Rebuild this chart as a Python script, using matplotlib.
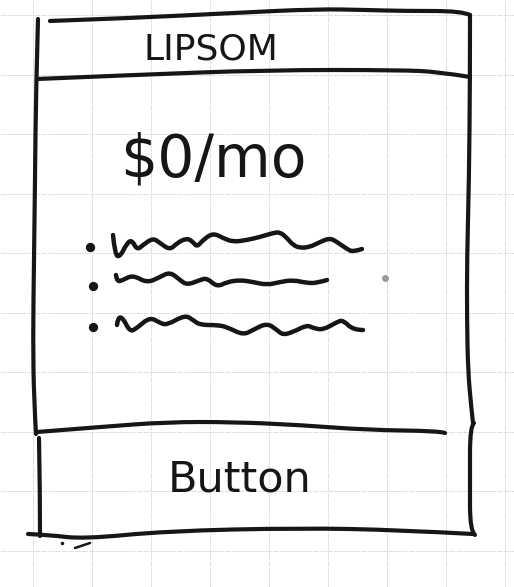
import numpy as np
import matplotlib
matplotlib.use("Agg")
import matplotlib.pyplot as plt
from matplotlib.path import Path
from matplotlib.patches import PathPatch

# grid paper
grid_x = [33, 92, 151, 210, 269, 328, 387, 446, 505]
grid_y = [15, 75, 134, 194, 253, 313, 372, 432, 491, 551]

# card outline strokes (x list, y list)
top_x = [50, 133, 233, 317, 367, 405, 462, 470]
top_y = [21, 18, 13, 9, 10, 11, 11, 15]
header_x = [37, 133, 267, 400, 440, 470]
header_y = [79, 75, 70, 70, 72, 77]
left_x = [38, 36, 35, 34, 33, 34, 36]
left_y = [19, 90, 180, 260, 340, 400, 434]
right_x = [470, 470, 469, 467, 467, 468, 471, 473]
right_y = [15, 80, 180, 260, 320, 370, 405, 423]
btn_top_x = [37, 100, 167, 233, 300, 367, 440, 445]
btn_top_y = [432, 427, 422, 422, 425, 430, 431, 433]
btn_left_x = [39, 40, 40]
btn_left_y = [438, 490, 536]
btn_right_x = [474, 470, 470, 470, 475]
btn_right_y = [423, 426, 480, 531, 535]
bottom_x = [28, 50, 83, 167, 300, 400, 473]
bottom_y = [534, 535, 539, 531, 528, 530, 534]
stray_x = [75, 90]
stray_y = [548, 543]

# wavy placeholder lines
wave1_x = [113, 115, 120, 127, 132, 137, 143, 153, 160, 170, 177, 187, 193, 197, 203,
           213, 223, 233, 247, 260, 273, 280, 287, 293, 300, 310, 320, 330, 337, 347,
           353, 362]
wave1_y = [235, 255, 257, 243, 240, 250, 245, 238, 243, 250, 243, 238, 242, 247, 240,
           233, 238, 242, 240, 237, 233, 232, 238, 245, 248, 247, 242, 238, 242, 249,
           252, 249]
wave2_x = [116, 117, 123, 133, 147, 160, 170, 180, 187, 200, 207, 217, 227, 240, 253,
           267, 280, 293, 307, 317, 327]
wave2_y = [275, 282, 280, 275, 283, 277, 272, 280, 285, 280, 278, 287, 282, 280, 282,
           285, 282, 280, 283, 283, 280]
wave3_x = [117, 118, 123, 130, 137, 150, 160, 167, 185, 193, 200, 217, 227, 243, 253,
           267, 277, 283, 293, 307, 313, 323, 337, 343, 353, 363]
wave3_y = [325, 317, 318, 332, 328, 317, 323, 325, 315, 320, 325, 325, 327, 335, 330,
           323, 330, 335, 332, 325, 328, 330, 322, 320, 330, 330]

bullet_x = [90, 93, 93]
bullet_y = [247, 286, 327]

title = "LIPSOM"
price = "$0/mo"
button = "Button"

ink = "#161616"


def smooth(ax, xs, ys, lw=2.9, color=ink):
    # quadratic bezier through midpoints, control points = drawn points
    pts = np.column_stack([xs, ys]).astype(float)
    if len(pts) < 3:
        ax.plot(xs, ys, color=color, lw=lw, solid_capstyle="round")
        return
    verts = [pts[0]]
    codes = [Path.MOVETO]
    for i in range(1, len(pts) - 1):
        mid = (pts[i] + pts[i + 1]) / 2 if i < len(pts) - 2 else pts[i + 1]
        verts += [pts[i], mid]
        codes += [Path.CURVE3, Path.CURVE3]
    patch = PathPatch(Path(verts, codes), fill=False, edgecolor=color, lw=lw,
                      capstyle="round", joinstyle="round")
    ax.add_patch(patch)


fig = plt.figure(figsize=(5.14, 5.87), dpi=100)
ax = fig.add_axes([0, 0, 1, 1])
ax.set_xlim(0, 514)
ax.set_ylim(587, 0)
ax.axis("off")

for gx in grid_x:
    ax.axvline(gx, color="#e0e0e0", lw=0.7, ls=(0, (6, 1)), zorder=0)
for gy in grid_y:
    ax.axhline(gy, color="#e0e0e0", lw=0.7, ls=(0, (6, 1)), zorder=0)

for xs, ys in [(top_x, top_y), (header_x, header_y), (left_x, left_y),
               (right_x, right_y), (btn_top_x, btn_top_y), (btn_left_x, btn_left_y),
               (btn_right_x, btn_right_y), (bottom_x, bottom_y)]:
    smooth(ax, xs, ys, lw=3.0)
ax.plot(stray_x, stray_y, color=ink, lw=1.8, solid_capstyle="round")
ax.plot([62], [543], "o", color=ink, ms=1.5)

for xs, ys in [(wave1_x, wave1_y), (wave2_x, wave2_y), (wave3_x, wave3_y)]:
    smooth(ax, xs, ys, lw=3.2)

ax.scatter(bullet_x, bullet_y, s=32, color=ink, zorder=3)
ax.plot([385], [278], "o", color="#9a9a9a", ms=4)

ax.text(211, 49, title, fontsize=26, color=ink, ha="center", va="center",
        family=["DejaVu Sans"])
ax.text(213, 160, price, fontsize=42, color=ink, ha="center", va="center",
        family=["DejaVu Sans"])
ax.text(240, 479, button, fontsize=31, color=ink, ha="center", va="center",
        family=["DejaVu Sans"])

fig.savefig("out.png", dpi=100)
